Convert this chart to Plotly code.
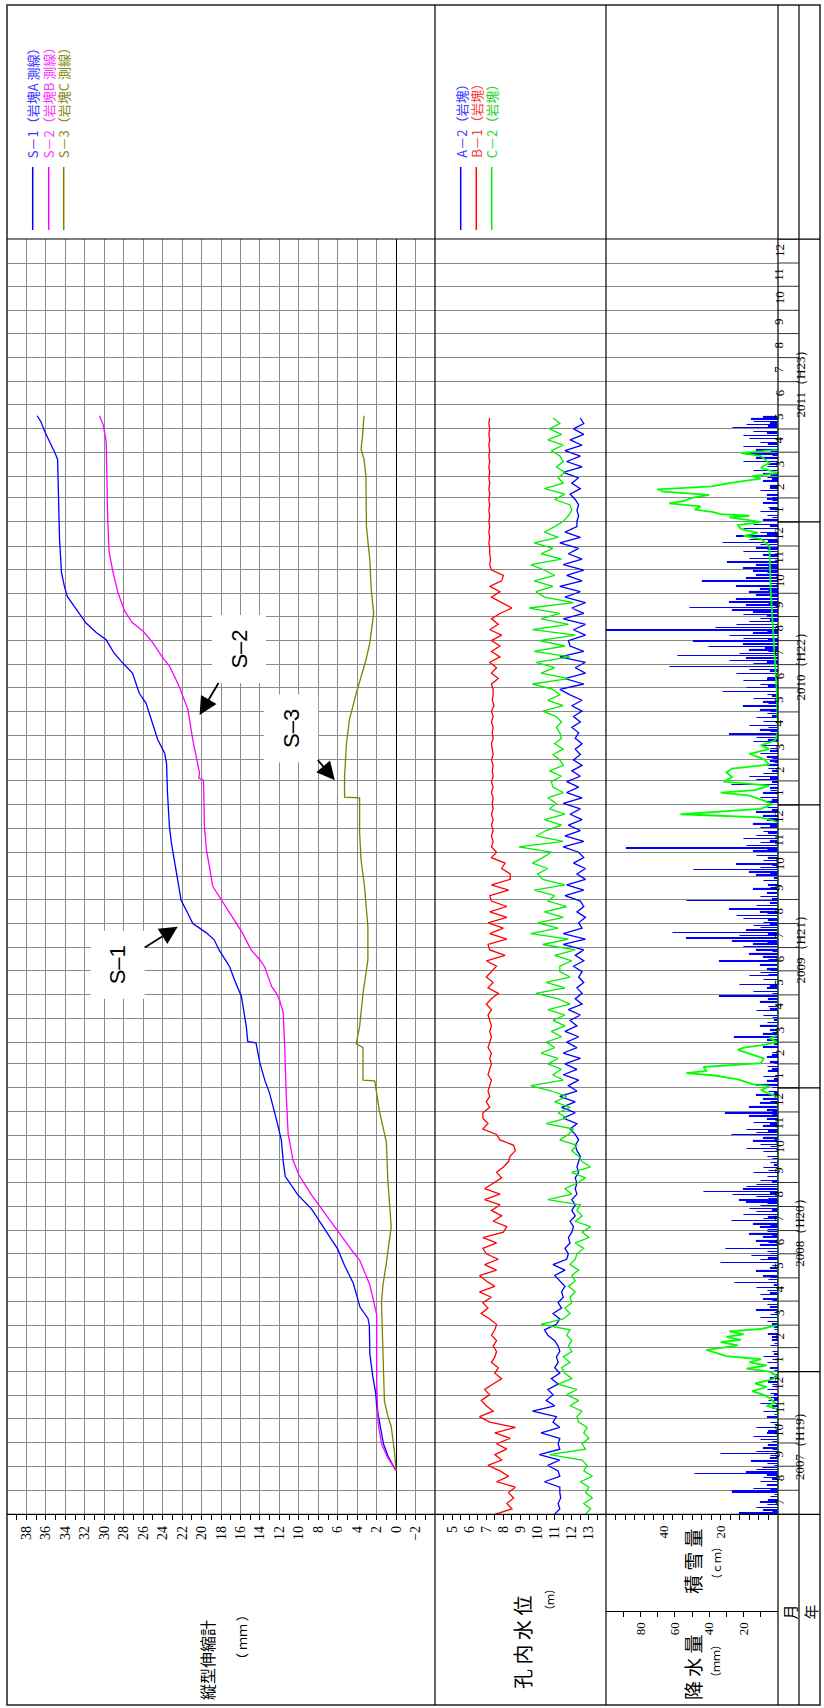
import numpy as np
import pandas as pd
import plotly.graph_objects as go

W, H = 824, 1708

# ---------------- Extensometer (縦型伸縮計, mm) ----------------
s1_dates = ["2007-08-26", "2007-09-13", "2007-09-30", "2007-10-27", "2007-11-18", "2007-12-05", "2007-12-26",
            "2008-01-24", "2008-03-01", "2008-03-10", "2008-03-24", "2008-04-24", "2008-05-17", "2008-06-07",
            "2008-07-10", "2008-07-29", "2008-08-16", "2008-09-09", "2008-09-28", "2008-10-26", "2008-11-21",
            "2008-12-25", "2009-01-11", "2009-02-02", "2009-02-28", "2009-03-02", "2009-03-21", "2009-04-29",
            "2009-05-20", "2009-06-06", "2009-06-28", "2009-07-11", "2009-07-20", "2009-08-01", "2009-08-14",
            "2009-08-31", "2009-09-26", "2009-10-22", "2009-11-13", "2009-12-04", "2010-01-16", "2010-02-24",
            "2010-03-09", "2010-03-26", "2010-04-21", "2010-05-12", "2010-05-25", "2010-06-20", "2010-07-03",
            "2010-07-16", "2010-08-02", "2010-08-11", "2010-08-24", "2010-09-02", "2010-09-14", "2010-09-27",
            "2010-10-10", "2010-10-28", "2010-12-10", "2011-02-08", "2011-03-23", "2011-04-01", "2011-04-14",
            "2011-04-27", "2011-05-10", "2011-05-18"]
s1_mm = [0.0, 0.8, 1.3, 1.7, 2.0, 2.1, 2.4,
         2.7, 2.75, 2.9, 3.7, 4.4, 5.3, 6.0,
         7.7, 8.7, 10.1, 11.4, 11.6, 11.8, 12.3,
         13.0, 13.5, 14.0, 14.4, 15.25, 15.4, 15.9,
         16.6, 17.1, 18.2, 18.7, 19.5, 20.9, 21.4,
         22.1, 22.45, 22.8, 23.1, 23.3, 23.5, 23.6,
         23.8, 24.5, 25.2, 25.7, 26.4, 27.1, 28.1,
         29.0, 29.8, 30.8, 31.9, 32.4, 33.1, 33.8,
         34.1, 34.4, 34.6, 34.7, 34.8, 35.1, 35.6,
         36.1, 36.5, 36.9]

s2_dates = ["2007-08-26", "2007-09-13", "2007-09-30", "2007-10-27", "2007-12-20", "2008-03-15", "2008-04-22",
            "2008-05-24", "2008-06-03", "2008-07-01", "2008-08-03", "2008-08-16", "2008-09-11", "2008-09-30",
            "2008-11-03", "2008-12-25", "2009-02-22", "2009-04-08", "2009-04-25", "2009-05-03", "2009-05-12",
            "2009-06-06", "2009-06-15", "2009-06-28", "2009-07-20", "2009-08-01", "2009-08-14", "2009-09-05",
            "2009-09-18", "2009-10-14", "2009-11-04", "2009-12-04", "2010-02-02", "2010-02-05", "2010-02-11",
            "2010-03-26", "2010-05-04", "2010-06-03", "2010-06-29", "2010-07-10", "2010-07-29", "2010-08-13",
            "2010-08-24", "2010-09-08", "2010-10-02", "2010-10-28", "2010-11-23", "2011-01-05", "2011-03-02",
            "2011-04-14", "2011-05-06", "2011-05-18"]
s2_mm = [0.0, 0.9, 1.5, 1.85, 2.0, 2.0, 2.7,
         3.75, 4.4, 6.0, 7.9, 8.7, 10.0, 10.6,
         11.1, 11.3, 11.45, 11.6, 12.0, 12.3, 12.8,
         13.5, 14.0, 14.9, 15.8, 16.4, 17.1, 18.2,
         18.85, 19.2, 19.5, 19.7, 19.8, 20.3, 20.2,
         20.9, 21.4, 22.3, 23.3, 24.0, 25.0, 26.0,
         27.1, 27.9, 28.6, 29.1, 29.5, 29.65, 29.7,
         29.8, 30.1, 30.5]

s3_dates = ["2007-08-26", "2007-09-18", "2007-10-22", "2007-11-05", "2007-11-24", "2008-01-19", "2008-03-30",
            "2008-04-22", "2008-05-20", "2008-07-06", "2008-08-03", "2008-09-04", "2008-10-23", "2008-12-01",
            "2009-01-10", "2009-01-11", "2009-02-22", "2009-02-27", "2009-03-21", "2009-05-03", "2009-06-15",
            "2009-07-28", "2009-09-18", "2009-10-22", "2009-11-26", "2010-01-10", "2010-01-11", "2010-02-07",
            "2010-03-21", "2010-04-21", "2010-05-25", "2010-06-16", "2010-07-07", "2010-07-29", "2010-09-05",
            "2010-10-05", "2010-11-13", "2010-12-26", "2011-03-01", "2011-03-23", "2011-04-05", "2011-04-22",
            "2011-05-18"]
s3_mm = [0.0, 0.15, 0.5, 0.85, 1.2, 1.35, 1.5,
         1.35, 1.0, 0.5, 0.65, 0.85, 1.0, 1.7,
         2.2, 3.4, 3.4, 4.1, 3.75, 3.4, 2.9,
         2.9, 3.25, 3.6, 3.75, 3.75, 5.3, 5.3,
         5.1, 4.8, 4.1, 3.6, 3.1, 2.7, 2.3,
         2.55, 2.7, 3.05, 3.1, 3.3, 3.6, 3.45,
         3.3]

# ---------------- Borehole water level (孔内水位, m): weekly readings from 2007-07-01 ----------------
wl_start = "2007-07-01"
a2_level = [
    11.0, 11.3, 11.2, 11.35, 11.3,  11.3, 10.4, 11.3, 11.2,  10.6, 11.3, 10.1, 11.3, 11.2,
    11.3, 10.2, 11.3, 10.9,  11.1, 9.7, 11.0, 10.5,  10.9, 10.6, 11.2, 10.8, 11.3,
    11.0, 11.2, 11.1, 11.3,  11.2, 11.0, 10.6, 10.4,  11.1, 11.3, 10.9, 11.4, 11.2,
    11.5, 11.4, 11.6, 11.3,  11.0, 11.6, 10.9, 11.7,  11.8, 11.6, 11.9, 11.8, 12.0,
    12.1, 11.9, 12.2, 12.0,  12.2, 12.0, 12.3, 12.2,  12.3, 12.2, 12.4, 12.3, 12.4,
    12.5, 12.3, 12.2, 12.4,  12.2, 11.9, 12.3, 11.5, 12.2,  11.4, 12.2, 11.3, 12.3,
    11.8, 12.4, 11.5, 12.3,  11.6, 12.5, 11.5, 12.3,  11.7, 12.4, 11.6, 12.3, 11.9,
    12.5, 11.8, 12.6, 12.2,  12.6, 12.3, 12.7, 12.4, 12.6,  12.1, 12.7, 12.2, 12.7,
    11.5, 12.8, 11.5, 12.6,  12.4, 12.8, 12.3, 12.7, 12.5,  11.6, 12.7, 11.7, 12.8,
    12.3, 12.8, 12.1, 12.7,  12.4, 11.5, 12.7, 11.6, 12.5,  11.8, 12.6, 11.9, 12.5,
    11.5, 12.6, 11.7, 12.4,  11.7, 12.5, 12.0, 12.6,  12.1, 12.5, 12.2, 12.6, 12.2,
    12.4, 12.0, 12.5, 12.1,  12.6, 12.0, 12.6, 11.9,  11.3, 12.7, 11.6, 12.8, 12.2,
    12.8, 11.3, 12.7, 11.9,  11.8, 12.8, 12.1, 12.8,  11.5, 12.7, 12.0, 12.8, 11.6,
    12.5, 11.3, 12.6, 11.7,  12.7, 11.5, 12.6, 11.8,  12.4, 11.3, 12.5, 11.6, 12.3,
    12.3, 12.4, 12.3, 12.4,  12.2, 11.9, 12.5, 12.0,  12.4, 11.5, 12.6, 11.7, 12.5,
    11.6, 12.6, 11.9, 12.7,  12.1, 12.7, 12.5]
b1_level = [
    7.5, 8.5, 8.2, 8.6, 8.3,  8.7, 7.6, 8.3, 7.8,  7.1, 7.9, 7.5, 8.2, 7.6,
    8.4, 7.5, 8.7, 7.2,  6.6, 7.4, 7.0, 6.7,  7.2, 6.9, 7.4, 7.9, 7.5,
    7.7, 7.3, 7.5, 7.6,  7.4, 7.6, 7.3, 7.5,  7.6, 7.2, 6.7, 7.1, 6.8,
    7.3, 6.6, 7.5, 7.0,  6.6, 7.6, 6.9, 7.7,  7.0, 6.8, 7.6, 6.8, 8.0,
    8.2, 7.4, 7.9, 7.3,  7.8, 6.9, 7.8, 6.9,  7.4, 7.9, 7.6, 8.0, 8.3,
    8.4, 8.7, 8.6, 7.8,  7.6, 6.8, 7.1, 6.8, 6.8,  7.2, 7.0, 7.2, 7.1,
    7.2, 7.3, 7.1, 7.2,  7.3, 7.2, 7.3, 7.1,  7.2, 7.3, 7.2, 7.3, 7.2,
    7.1, 7.3, 7.0, 7.3,  7.7, 7.1, 7.4, 7.0, 7.3,  7.6, 7.0, 8.1, 7.2,
    7.1, 8.2, 7.2, 8.0,  7.1, 8.2, 7.2, 8.2, 7.3,  7.2, 8.3, 7.3, 8.4,
    8.4, 7.9, 8.1, 7.3,  7.6, 7.3, 7.4, 7.3, 7.4,  7.3, 7.4, 7.3, 7.4,
    7.35, 7.4, 7.3, 7.4,  7.3, 7.4, 7.35, 7.4,  7.3, 7.4, 7.35, 7.3, 7.4,
    7.35, 7.4, 7.3, 7.4,  7.3, 7.45, 7.35, 7.4,  7.4, 7.3, 7.7, 7.3, 7.6,
    7.2, 7.8, 7.3, 7.8,  7.3, 7.9, 7.2, 7.7,  7.3, 7.8, 8.5, 7.9, 7.3,
    7.8, 7.2, 7.9, 8.0,  7.3, 7.2, 7.25, 7.2,  7.2, 7.15, 7.2, 7.15, 7.2,
    7.15, 7.2, 7.15, 7.2,  7.15, 7.2, 7.15, 7.2,  7.15, 7.2, 7.15, 7.2, 7.15,
    7.2, 7.15, 7.2, 7.15,  7.2, 7.15, 7.2]
c2_level = [
    12.8, 13.1, 12.7, 13.2, 12.8,  13.0, 12.5, 13.2, 12.7,  12.9, 12.6, 10.7, 12.8, 12.6,
    13.0, 12.7, 12.9, 12.4,  12.3, 12.6, 11.9, 12.4,  11.7, 12.3, 11.2, 12.0, 11.6,
    11.4, 11.9, 11.5, 12.0,  11.8, 12.0, 11.7, 11.9,  10.2, 11.5, 11.9, 11.6, 12.0,
    11.9, 12.2, 11.8, 12.2,  12.0, 12.4, 11.9, 12.2,  12.3, 12.7, 12.2, 13.0, 12.6,
    13.1, 12.2, 12.6, 12.3,  12.5, 10.6, 12.0, 11.6,  12.3, 12.8, 12.0, 13.1, 12.6,
    12.4, 12.0, 12.3, 11.3,  11.8, 12.1, 10.5, 11.7, 11.2,  11.9, 11.0, 11.7, 10.8,
    9.6, 11.5, 10.9, 11.4,  10.6, 11.2, 10.2, 11.0,  10.5, 11.4, 10.8, 11.6, 10.9,
    11.6, 10.6, 11.9, 11.2,  9.9, 11.6, 10.5, 11.9, 11.3,  11.3, 12.0, 11.0, 12.2,
    10.3, 11.8, 9.6, 11.2,  10.0, 11.5, 10.4, 11.7, 10.6,  11.0, 9.8, 11.6, 10.3,
    10.0, 10.6, 9.7, 10.3,  10.8, 8.9, 11.5, 9.9, 10.5,  11.4, 10.4, 11.6, 10.7,
    11.1, 10.6, 11.5, 10.9,  10.8, 11.4, 10.7, 11.5,  11.3, 10.9, 11.5, 11.0, 11.4,
    11.3, 11.1, 11.4, 11.1,  10.3, 11.5, 10.6, 11.3,  10.9, 9.7, 11.8, 10.2, 11.0,
    9.9, 11.9, 9.8, 11.6,  10.1, 12.2, 9.7, 11.8,  10.2, 11.3, 9.5, 12.1, 10.4,
    9.9, 10.9, 9.8, 11.0,  10.4, 9.6, 11.4, 10.2,  10.9, 9.8, 11.2, 10.4, 11.0,
    11.5, 11.8, 12.0, 11.9,  11.0, 11.6, 10.4, 11.5,  11.2, 11.6, 11.1, 11.5, 11.3,
    10.8, 11.5, 10.6, 11.4,  10.7, 11.3, 10.9]

# ---------------- Daily precipitation (降水量, mm) ----------------
precip_dates = [
    "2007-07-02", "2007-07-06", "2007-07-09", "2007-07-13", "2007-07-16", "2007-07-23", "2007-07-29", "2007-07-31",
    "2007-08-03", "2007-08-07", "2007-08-12", "2007-08-17", "2007-08-22", "2007-08-24", "2007-08-27", "2007-08-30",
    "2007-09-04", "2007-09-07", "2007-09-11", "2007-09-17", "2007-09-19", "2007-09-24", "2007-09-28",
    "2007-10-05", "2007-10-09", "2007-10-13", "2007-10-20", "2007-10-27",
    "2007-11-03", "2007-11-10", "2007-11-14", "2007-11-20", "2007-11-24", "2007-11-28",
    "2007-12-03", "2007-12-08", "2007-12-12", "2007-12-18", "2007-12-23", "2007-12-28",
    "2008-01-05", "2008-01-12", "2008-01-20", "2008-01-26",
    "2008-02-03", "2008-02-10", "2008-02-18", "2008-02-24",
    "2008-03-05", "2008-03-10", "2008-03-14", "2008-03-20", "2008-03-27",
    "2008-04-03", "2008-04-09", "2008-04-14", "2008-04-18", "2008-04-24", "2008-04-28",
    "2008-05-03", "2008-05-09", "2008-05-13", "2008-05-20", "2008-05-24", "2008-05-29",
    "2008-06-03", "2008-06-07", "2008-06-12", "2008-06-17", "2008-06-22", "2008-06-26", "2008-06-29",
    "2008-07-02", "2008-07-05", "2008-07-09", "2008-07-13", "2008-07-16", "2008-07-21", "2008-07-25", "2008-07-29",
    "2008-08-02", "2008-08-06", "2008-08-09", "2008-08-13", "2008-08-16", "2008-08-20", "2008-08-23", "2008-08-26", "2008-08-29",
    "2008-09-03", "2008-09-08", "2008-09-13", "2008-09-20", "2008-09-26",
    "2008-10-04", "2008-10-10", "2008-10-14", "2008-10-19", "2008-10-24", "2008-10-28",
    "2008-11-01", "2008-11-04", "2008-11-08", "2008-11-12", "2008-11-17", "2008-11-21", "2008-11-25", "2008-11-29",
    "2008-12-03", "2008-12-07", "2008-12-12", "2008-12-17", "2008-12-22", "2008-12-27",
    "2009-01-04", "2009-01-09", "2009-01-15", "2009-01-22", "2009-01-28",
    "2009-02-03", "2009-02-09", "2009-02-15", "2009-02-22",
    "2009-03-03", "2009-03-07", "2009-03-11", "2009-03-16", "2009-03-21", "2009-03-26",
    "2009-04-04", "2009-04-10", "2009-04-15", "2009-04-21", "2009-04-29",
    "2009-05-05", "2009-05-09", "2009-05-14", "2009-05-20", "2009-05-25", "2009-05-29",
    "2009-06-03", "2009-06-08", "2009-06-13", "2009-06-18", "2009-06-22", "2009-06-27",
    "2009-07-02", "2009-07-05", "2009-07-09", "2009-07-13", "2009-07-16", "2009-07-20", "2009-07-23", "2009-07-26", "2009-07-29",
    "2009-08-02", "2009-08-07", "2009-08-11", "2009-08-15", "2009-08-19", "2009-08-24", "2009-08-30",
    "2009-09-04", "2009-09-09", "2009-09-14", "2009-09-19", "2009-09-25",
    "2009-10-02", "2009-10-06", "2009-10-09", "2009-10-12", "2009-10-16", "2009-10-21", "2009-10-27",
    "2009-11-02", "2009-11-06", "2009-11-09", "2009-11-13", "2009-11-18", "2009-11-22", "2009-11-27",
    "2009-12-02", "2009-12-07", "2009-12-12", "2009-12-17", "2009-12-22", "2009-12-28",
    "2010-01-04", "2010-01-10", "2010-01-16", "2010-01-22", "2010-01-27",
    "2010-02-02", "2010-02-06", "2010-02-10", "2010-02-16", "2010-02-21", "2010-02-26",
    "2010-03-03", "2010-03-08", "2010-03-14", "2010-03-18", "2010-03-23", "2010-03-28",
    "2010-04-02", "2010-04-07", "2010-04-13", "2010-04-18", "2010-04-23", "2010-04-28",
    "2010-05-03", "2010-05-08", "2010-05-13", "2010-05-18", "2010-05-23", "2010-05-27",
    "2010-06-01", "2010-06-05", "2010-06-10", "2010-06-14", "2010-06-19", "2010-06-24", "2010-06-28",
    "2010-07-02", "2010-07-06", "2010-07-09", "2010-07-12", "2010-07-15", "2010-07-19", "2010-07-24", "2010-07-27", "2010-07-31",
    "2010-08-03", "2010-08-07", "2010-08-10", "2010-08-14", "2010-08-17", "2010-08-21", "2010-08-25", "2010-08-29",
    "2010-09-03", "2010-09-06", "2010-09-09", "2010-09-12", "2010-09-15", "2010-09-19", "2010-09-23", "2010-09-28",
    "2010-10-02", "2010-10-06", "2010-10-10", "2010-10-16", "2010-10-20", "2010-10-24", "2010-10-29",
    "2010-11-02", "2010-11-06", "2010-11-10", "2010-11-14", "2010-11-19", "2010-11-23", "2010-11-28",
    "2010-12-02", "2010-12-05", "2010-12-09", "2010-12-13", "2010-12-18", "2010-12-23", "2010-12-28",
    "2011-01-03", "2011-01-09", "2011-01-14", "2011-01-19", "2011-01-25", "2011-01-30",
    "2011-02-04", "2011-02-10", "2011-02-16", "2011-02-22", "2011-02-27",
    "2011-03-03", "2011-03-08", "2011-03-13", "2011-03-19", "2011-03-24", "2011-03-29",
    "2011-04-03", "2011-04-08", "2011-04-13", "2011-04-18", "2011-04-22", "2011-04-27",
    "2011-05-02", "2011-05-06", "2011-05-10", "2011-05-13", "2011-05-16"]
precip_mm = [
    22, 8, 12, 6, 10, 4, 26, 27,
    14, 6, 10, 8, 48, 18, 12, 9,
    6, 15, 4, 33, 12, 8, 5,
    10, 14, 6, 12, 4,
    6, 8, 3, 10, 5, 4,
    4, 6, 3, 5, 4, 3,
    4, 6, 8, 3,
    4, 3, 5, 2,
    6, 10, 4, 12, 6,
    8, 10, 6, 12, 25, 5,
    8, 12, 4, 33, 10, 15,
    6, 30, 10, 12, 8, 16, 6,
    6, 10, 14, 27, 8, 20, 12, 16,
    10, 18, 22, 12, 26, 43, 20, 18, 12,
    10, 6, 14, 8, 4,
    6, 8, 18, 10, 14, 8,
    27, 12, 18, 8, 14, 6, 16, 30,
    6, 16, 10, 8, 12, 5,
    12, 6, 8, 5, 6,
    4, 6, 3, 8,
    6, 25, 8, 4, 10, 6,
    8, 12, 5, 10, 34,
    14, 6, 22, 8, 16, 10,
    6, 10, 34, 8, 16, 12,
    20, 14, 26, 53, 22, 61, 18, 10, 14,
    8, 20, 24, 10, 28, 12, 53,
    10, 6, 14, 5, 8,
    12, 16, 49, 10, 24, 8, 12,
    14, 88, 18, 10, 20, 12, 8,
    10, 14, 6, 8, 12, 6,
    6, 10, 8, 4, 27,
    12, 16, 8, 5, 6, 4,
    6, 10, 4, 8, 14, 12,
    28, 10, 16, 8, 12, 6,
    10, 20, 8, 14, 6, 32,
    18, 10, 20, 6, 24, 16, 63,
    14, 28, 18, 58, 22, 16, 40, 20, 49,
    20, 28, 14, 122, 36, 24, 16, 10,
    20, 14, 26, 51, 18, 28, 24, 12,
    16, 10, 24, 43.5, 18, 12, 14,
    20, 12, 29, 16, 8, 20, 12,
    10, 32, 16, 24, 10, 20, 14,
    8, 6, 10, 5, 8, 6,
    6, 10, 4, 8, 6,
    8, 14, 6, 20, 12, 18,
    12, 20, 10, 16, 20, 14,
    26, 18, 14, 15, 8]

# light-rain days (small daily totals)
light_rain_dates = [
    "2007-07-04", "2007-07-19", "2007-07-26", "2007-08-01", "2007-08-15", "2007-08-20",
    "2007-09-01", "2007-09-14", "2007-09-22", "2007-10-02", "2007-10-16", "2007-10-24",
    "2007-11-06", "2007-11-17", "2007-11-26", "2007-12-01", "2007-12-15", "2007-12-25",
    "2008-01-02", "2008-01-16", "2008-01-23", "2008-02-06", "2008-02-14", "2008-02-27",
    "2008-03-02", "2008-03-17", "2008-03-24", "2008-04-01", "2008-04-11", "2008-04-21",
    "2008-05-01", "2008-05-16", "2008-05-26", "2008-06-01", "2008-06-15", "2008-06-24",
    "2008-07-07", "2008-07-18", "2008-07-27", "2008-08-04", "2008-08-11", "2008-08-18",
    "2008-09-01", "2008-09-16", "2008-09-23", "2008-10-01", "2008-10-17", "2008-10-26",
    "2008-11-06", "2008-11-15", "2008-11-27", "2008-12-01", "2008-12-14", "2008-12-25",
    "2009-01-01", "2009-01-12", "2009-01-25", "2009-02-01", "2009-02-12", "2009-02-26",
    "2009-03-01", "2009-03-13", "2009-03-29", "2009-04-01", "2009-04-12", "2009-04-25",
    "2009-05-02", "2009-05-12", "2009-05-27", "2009-06-01", "2009-06-15", "2009-06-25",
    "2009-07-07", "2009-07-18", "2009-07-31", "2009-08-05", "2009-08-13", "2009-08-27",
    "2009-09-01", "2009-09-16", "2009-09-28", "2009-10-04", "2009-10-14", "2009-10-24",
    "2009-11-04", "2009-11-15", "2009-11-25", "2009-12-04", "2009-12-14", "2009-12-25",
    "2010-01-07", "2010-01-19", "2010-01-30", "2010-02-04", "2010-02-13", "2010-02-24",
    "2010-03-01", "2010-03-11", "2010-03-25", "2010-04-05", "2010-04-10", "2010-04-25",
    "2010-05-01", "2010-05-11", "2010-05-21", "2010-06-03", "2010-06-12", "2010-06-22",
    "2010-07-04", "2010-07-17", "2010-07-22", "2010-08-01", "2010-08-12", "2010-08-27",
    "2010-09-01", "2010-09-17", "2010-09-26", "2010-10-04", "2010-10-13", "2010-10-27",
    "2010-11-04", "2010-11-17", "2010-11-26", "2010-12-07", "2010-12-16", "2010-12-26",
    "2011-01-06", "2011-01-17", "2011-01-28", "2011-02-01", "2011-02-13", "2011-02-25",
    "2011-03-01", "2011-03-16", "2011-03-27", "2011-04-01", "2011-04-11", "2011-04-25",
    "2011-05-04", "2011-05-08", "2011-05-15"]
light_rain_mm = [
    3, 5, 2, 4, 3, 6,  2, 4, 3, 3, 5, 2,  2, 3, 2, 2, 3, 2,
    2, 3, 2, 2, 3, 2,  3, 2, 4, 3, 4, 2,  4, 3, 5, 4, 5, 3,
    4, 5, 3, 6, 5, 4,  3, 5, 2, 3, 4, 2,  5, 4, 3, 3, 4, 2,
    3, 2, 3, 2, 3, 2,  2, 3, 2, 3, 4, 5,  3, 4, 5, 4, 5, 3,
    6, 5, 4, 5, 6, 4,  3, 4, 2, 4, 3, 5,  6, 4, 5, 4, 5, 3,
    3, 4, 3, 4, 3, 2,  3, 4, 5, 4, 5, 3,  4, 5, 3, 5, 6, 4,
    6, 5, 7, 5, 6, 4,  6, 5, 4, 5, 4, 6,  5, 4, 6, 5, 6, 4,
    3, 4, 3, 3, 4, 3,  4, 5, 3, 4, 5, 6,  5, 4, 3]

# ---------------- Snow depth (積雪量, cm) ----------------
snow_dates = [
    "2007-07-01", "2007-11-14", "2007-11-18", "2007-11-22", "2007-11-28", "2007-12-02", "2007-12-07", "2007-12-12",
    "2007-12-17", "2007-12-22", "2007-12-26", "2008-01-01", "2008-01-05", "2008-01-09", "2008-01-13", "2008-01-17",
    "2008-01-21", "2008-01-25", "2008-01-29", "2008-02-01", "2008-02-04", "2008-02-08", "2008-02-11", "2008-02-15",
    "2008-02-18", "2008-02-22", "2008-02-25", "2008-03-01", "2008-12-20", "2008-12-29", "2009-01-03", "2009-01-06",
    "2009-01-12", "2009-01-17", "2009-01-20", "2009-01-23", "2009-01-28", "2009-02-02", "2009-02-08", "2009-02-13",
    "2009-02-19", "2009-02-22", "2009-02-25", "2009-03-01", "2009-03-06", "2009-03-10", "2009-12-10", "2009-12-16",
    "2009-12-20", "2009-12-27", "2010-01-02", "2010-01-08", "2010-01-13", "2010-01-17", "2010-01-20", "2010-01-26",
    "2010-01-31", "2010-02-06", "2010-02-12", "2010-02-17", "2010-02-22", "2010-03-01", "2010-03-08", "2010-03-14",
    "2010-03-19", "2010-03-25", "2010-04-05", "2010-06-01", "2010-08-01", "2010-10-01", "2010-12-01", "2010-12-10",
    "2010-12-14", "2010-12-18", "2010-12-23", "2010-12-28", "2011-01-01", "2011-01-07", "2011-01-09", "2011-01-11",
    "2011-01-14", "2011-01-17", "2011-01-21", "2011-01-25", "2011-01-28", "2011-02-01", "2011-02-05", "2011-02-09",
    "2011-02-12", "2011-02-16", "2011-02-20", "2011-02-26", "2011-03-01", "2011-03-05", "2011-03-12", "2011-03-18",
    "2011-03-27", "2011-03-31", "2011-04-04", "2011-05-18"]
snow_cm = [
    0, 0, 4, 1, 3, 5, 9, 4,
    8, 2, 0, 3, 11, 4, 10, 6,
    18, 22, 25, 19, 14, 20, 13, 18,
    12, 17, 6, 0, 0, 6, 3, 9,
    14, 22, 32, 25, 26, 6, 5, 9,
    14, 12, 6, 0, 3, 0, 0, 6,
    34, 6, 2, 6, 10, 20, 8, 3,
    19, 16, 18, 16, 3, 5, 10, 3,
    6, 1, 0, 0.5, 1.5, 2.5, 3, 6,
    12, 7, 13, 14, 6, 17, 10, 20,
    23, 29, 27, 38, 33, 30, 24, 40,
    42, 23, 17, 6, 9, 0, 6, 3,
    6, 13, 0, 0]

# ---------------- axis ticks & labels ----------------
ext_ticks = list(range(-2, 39, 2))
ext_minor = list(range(-3, 40, 2))
wl_ticks = list(range(5, 14))
wl_minor = [v + 0.5 for v in range(4, 14)]
snow_ticks = [20, 40]
snow_minor = [i * 10 / 3 for i in range(1, 18) if i not in (6, 12)]
precip_ticks = [20, 40, 60, 80]
precip_minor = [10, 30, 50, 70, 90]
months = pd.date_range("2007-07-01", "2012-01-01", freq="MS")
year_labels = {2007: "2007（H19）", 2008: "2008（H20）", 2009: "2009（H21）",
               2010: "2010（H22）", 2011: "2011（H23）"}
ext_names = ["S－1（岩塊A 測線）", "S－2（岩塊B 測線）", "S－3（岩塊C 測線）"]
wl_names = ["A－2（岩塊）", "B－1（岩塊）", "C－2（岩塊）"]

# ---------------- styling / layout geometry (pixels) ----------------
C_S1, C_S2, C_S3 = "#0000ff", "#ff00ff", "#808000"
C_A2, C_B1, C_C2 = "#0000ff", "#ff0000", "#00ee00"
GRID = "#8a8a8a"
SERIF = "Liberation Serif, DejaVu Serif, serif"
CJK = "Noto Sans CJK JP, sans-serif"

X_L, X_EXT, X_WL, X_PR, X_MON, X_R = 7, 435, 606, 778, 799, 820
Y_T, Y_LEG, Y_AX, Y_PRAX, Y_B = 5, 239, 1514.3, 1611, 1705


def fx(px):
    return px / W


def fy(py):
    return 1 - py / H


fig = go.Figure()

for nm, d, v, c in [("S-1", s1_dates, s1_mm, C_S1), ("S-2", s2_dates, s2_mm, C_S2),
                    ("S-3", s3_dates, s3_mm, C_S3)]:
    fig.add_trace(go.Scatter(x=v, y=d, xaxis="x", yaxis="y", mode="lines", name=nm,
                             line=dict(color=c, width=1.3)))

for nm, v, c in [("A-2", a2_level, C_A2), ("B-1", b1_level, C_B1), ("C-2", c2_level, C_C2)]:
    fig.add_trace(go.Scatter(x=v, y=pd.date_range(wl_start, periods=len(v), freq="7D"),
                             xaxis="x2", yaxis="y", mode="lines", name=nm,
                             line=dict(color=c, width=1.3)))

fig.add_trace(go.Bar(x=precip_mm + light_rain_mm, y=precip_dates + light_rain_dates,
                     orientation="h", xaxis="x3", yaxis="y",
                     width=0.55 * 86400000, cliponaxis=False, name="precip",
                     marker=dict(color="#0000ff", line=dict(color="#0000ff", width=1.1))))
fig.add_trace(go.Scatter(x=snow_cm, y=snow_dates, xaxis="x4", yaxis="y", mode="lines",
                         name="snow", line=dict(color="#00ff00", width=1.8)))
fig.add_trace(go.Scatter(x=[], y=[], xaxis="x5", yaxis="y2", mode="lines", name="precip-axis"))

tickfont = dict(family=SERIF, size=14, color="black")
common_x = dict(anchor="y", side="bottom", tickangle=-90, ticks="outside", ticklen=5,
                tickcolor="black", tickwidth=1, tickfont=tickfont, showline=False,
                zeroline=False, fixedrange=True, tickmode="array")

layout = dict(
    width=W, height=H, autosize=False, margin=dict(l=0, r=0, t=0, b=0, pad=0),
    paper_bgcolor="white", plot_bgcolor="rgba(0,0,0,0)", showlegend=False,
    bargap=0,
    yaxis=dict(domain=[fy(Y_AX), fy(Y_LEG)], type="date",
               range=[months[0], months[-1]], tick0="2007-07-01", dtick="M1",
               showgrid=True, gridcolor=GRID, gridwidth=1, showticklabels=False,
               ticks="", zeroline=False, showline=False, fixedrange=True),
    yaxis2=dict(domain=[fy(Y_PRAX), fy(Y_PRAX - 8)], range=[0, 1], visible=False,
                fixedrange=True),
    xaxis=dict(common_x, domain=[fx(X_L), fx(X_EXT)], range=[40, -4], tickvals=ext_ticks,
               showgrid=True, gridcolor=GRID, gridwidth=1, zeroline=True,
               zerolinecolor="black", zerolinewidth=1.2,
               minor=dict(tickmode="array", tickvals=ext_minor, ticks="outside", ticklen=5,
                          tickcolor="black", showgrid=False)),
    xaxis2=dict(common_x, domain=[fx(X_EXT), fx(X_WL)], range=[4, 14], tickvals=wl_ticks,
                showgrid=False,
                minor=dict(tickmode="array", tickvals=wl_minor, ticks="outside", ticklen=5,
                           tickcolor="black", showgrid=False)),
    xaxis3=dict(domain=[fx(X_WL), fx(X_PR)], range=[100, 0], anchor="y", showgrid=False,
                zeroline=False, showline=False, showticklabels=False, ticks="",
                fixedrange=True),
    xaxis4=dict(common_x, overlaying="x3", range=[60, 0], tickvals=snow_ticks,
                showgrid=False, tickfont=dict(family=SERIF, size=13, color="black"),
                minor=dict(tickmode="array", tickvals=snow_minor, ticks="outside", ticklen=5,
                           tickcolor="black", showgrid=False)),
    xaxis5=dict(common_x, anchor="y2", domain=[fx(X_WL), fx(X_PR)], range=[100, 0],
                tickvals=precip_ticks, showgrid=False, showline=True, linecolor="black",
                linewidth=1, tickfont=dict(family=SERIF, size=13, color="black"),
                minor=dict(tickmode="array", tickvals=precip_minor, ticks="outside",
                           ticklen=5, tickcolor="black", showgrid=False)),
)

shapes = []


def pline(x0, y0, x1, y1, color="black", width=1.2):
    shapes.append(dict(type="line", xref="paper", yref="paper", x0=fx(x0), y0=fy(y0),
                       x1=fx(x1), y1=fy(y1), line=dict(color=color, width=width)))


# frame and panel dividers
shapes.append(dict(type="rect", xref="paper", yref="paper", x0=fx(X_L), y0=fy(Y_B),
                   x1=fx(X_R), y1=fy(Y_T), line=dict(color="#222", width=1.5)))
for xv in (X_EXT, X_WL, X_PR, X_MON):
    pline(xv, Y_T, xv, Y_B)
pline(X_L, Y_LEG, X_R, Y_LEG)
pline(X_L, Y_AX, X_R, Y_AX)

# month row / year row separators (data y)
for m in months:
    shapes.append(dict(type="line", xref="paper", yref="y", x0=fx(X_PR), x1=fx(X_MON),
                       y0=m, y1=m, line=dict(color="#333", width=1)))
    if m.month == 1:
        shapes.append(dict(type="line", xref="paper", yref="y", x0=fx(X_PR), x1=fx(X_R),
                           y0=m, y1=m, line=dict(color="black", width=1.2)))

# legend swatches
for xv, c in zip((32.7, 48.7, 63.7), (C_S1, C_S2, C_S3)):
    pline(xv, 167, xv, 230, color=c, width=1.5)
for xv, c in zip((460.7, 476.3, 491.7), (C_A2, C_B1, C_C2)):
    pline(xv, 167, xv, 230, color=c, width=1.5)

annotations = []


def ptext(text, x, y, size, family=CJK, color="black", yanchor="middle"):
    annotations.append(dict(text=text, xref="paper", yref="paper", x=fx(x), y=fy(y),
                            showarrow=False, textangle=-90, xanchor="center",
                            yanchor=yanchor, font=dict(family=family, size=size, color=color)))


# legend texts
for xv, t, c in zip((32.7, 48.7, 63.7), ext_names, ("#3a3aff", "#ff3aff", "#8a8a20")):
    ptext(t, xv, 160, 13, color=c, yanchor="bottom")
for xv, t, c in zip((460.7, 476.3, 491.7), wl_names, ("#3a3aff", "#ff3a3a", "#2ad42a")):
    ptext(t, xv, 160, 13, color=c, yanchor="bottom")

# month labels
for i in range(len(months) - 1):
    mid = months[i] + (months[i + 1] - months[i]) / 2
    annotations.append(dict(text=str(months[i].month), xref="paper", yref="y",
                            x=fx((X_PR + X_MON) / 2), y=mid.strftime("%Y-%m-%d %H:%M"),
                            showarrow=False, textangle=-90,
                            font=dict(family=SERIF, size=13, color="black")))
# year labels
for yr, lab in year_labels.items():
    start = max(pd.Timestamp(f"{yr}-01-01"), months[0])
    end = pd.Timestamp(f"{yr + 1}-01-01")
    mid = start + (end - start) / 2
    annotations.append(dict(text=lab, xref="paper", yref="y", x=fx((X_MON + X_R) / 2),
                            y=mid.strftime("%Y-%m-%d %H:%M"), showarrow=False, textangle=-90,
                            font=dict(family=SERIF, size=13, color="black")))

# axis titles
ptext("縦型伸縮計", 207, 1660, 16)
ptext("（ ｍｍ ）", 241, 1637, 13)
ptext("孔 内 水 位", 522, 1643, 20)
ptext("（ｍ）", 549, 1600, 11)
ptext("積 雪 量", 692, 1561, 19)
ptext("（ｃｍ）", 716, 1563, 11)
ptext("降 水 量", 692, 1667, 19)
ptext("（ｍｍ）", 715, 1661, 11)
ptext("月", (X_PR + X_MON) / 2, 1612, 15)
ptext("年", (X_MON + X_R) / 2, 1612, 15)

# S-1 / S-2 / S-3 callouts
for txt, xv, dv, axp, ayp in [("S–1", 22.45, "2009-07-28", -60, 38),
                               ("S–2", 20.2, "2010-04-27", 39, -66),
                               ("S–3", 6.3, "2010-02-02", -44, -52)]:
    annotations.append(dict(text=txt, x=xv, y=dv, xref="x", yref="y", showarrow=True,
                            ax=axp, ay=ayp, arrowhead=2, arrowsize=2.0, arrowwidth=1.8,
                            arrowcolor="black", standoff=0, textangle=-90,
                            bgcolor="white", borderpad=14,
                            font=dict(family="Liberation Sans Narrow, Liberation Sans, Arial",
                                      size=22, color="black")))

layout["shapes"] = shapes
layout["annotations"] = annotations
fig.update_layout(**layout)
fig.write_html("out.html")
